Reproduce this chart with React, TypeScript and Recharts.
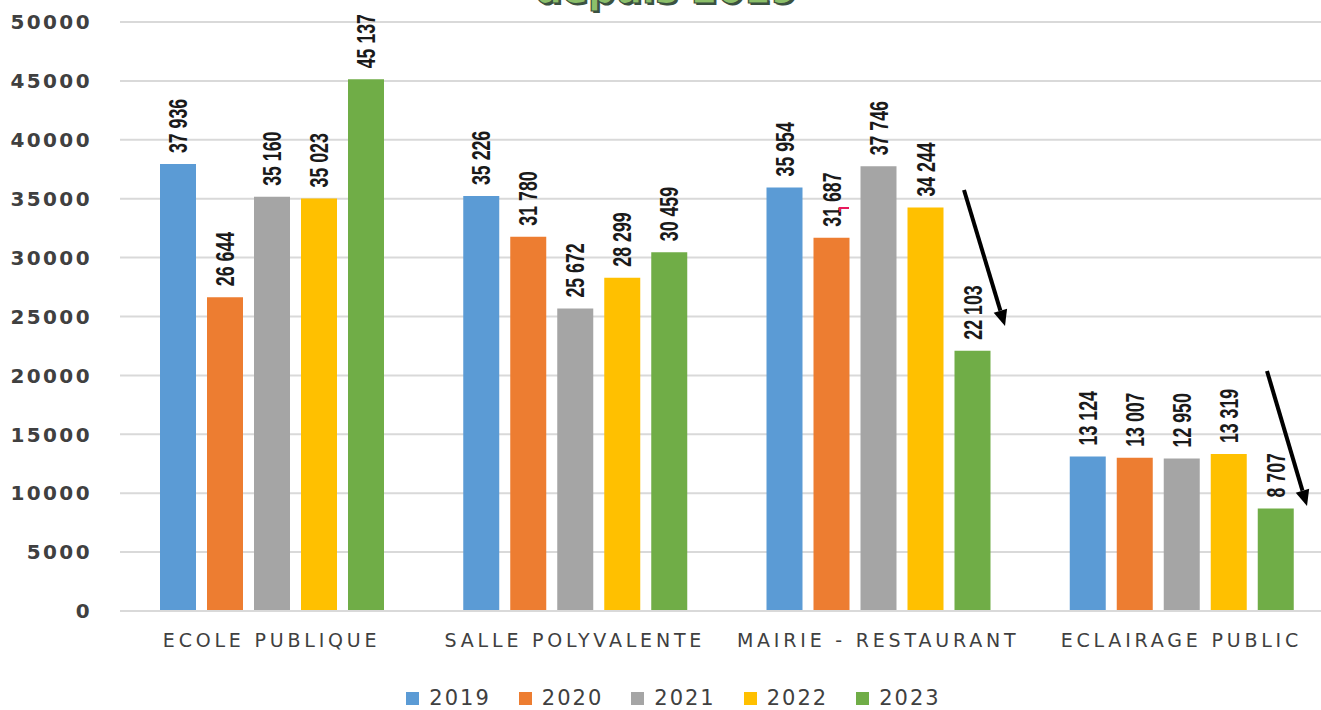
import React from 'react';
import { BarChart, Bar, XAxis, YAxis, CartesianGrid, Legend, LabelList } from 'recharts';

// Consumption per building, one array per year
const categories = ['ECOLE PUBLIQUE', 'SALLE POLYVALENTE', 'MAIRIE - RESTAURANT', 'ECLAIRAGE PUBLIC'];
const values2019 = [37936, 35226, 35954, 13124];
const values2020 = [26644, 31780, 31687, 13007];
const values2021 = [35160, 25672, 37746, 12950];
const values2022 = [35023, 28299, 34244, 13319];
const values2023 = [45137, 30459, 22103, 8707];
const years = ['2019', '2020', '2021', '2022', '2023'];
const colors = ['#5B9BD5', '#ED7D31', '#A5A5A5', '#FFC000', '#70AD47'];
const yTicks = [0, 5000, 10000, 15000, 20000, 25000, 30000, 35000, 40000, 45000, 50000];

const seriesValues = [values2019, values2020, values2021, values2022, values2023];

const data = categories.map((name, i) => {
  const row: Record<string, string | number> = { name };
  years.forEach((y, s) => {
    row[y] = seriesValues[s][i];
  });
  return row;
});

const formatValue = (v: number) => String(v).replace(/\B(?=(\d{3})+(?!\d))/g, ' ');

const ValueTick = (props: any) => {
  const { x, y, payload } = props;
  return (
    <text
      x={x - 28}
      y={y}
      dy="0.36em"
      textAnchor="end"
      fill="#404040"
      fontFamily="'DejaVu Sans', sans-serif"
      fontWeight="bold"
      fontSize={20}
      letterSpacing={2.4}
    >
      {payload.value}
    </text>
  );
};

const CategoryTick = (props: any) => {
  const { x, y, payload } = props;
  return (
    <text
      x={x}
      y={y + 36}
      textAnchor="middle"
      fill="#404040"
      fontFamily="'DejaVu Sans', sans-serif"
      fontSize={19}
      letterSpacing={3.8}
    >
      {payload.value}
    </text>
  );
};

// rotated value above each bar, squeezed along the text to look condensed
const BarValueLabel = (props: any) => {
  const { x, y, width, value } = props;
  const cx = Number(x) + Number(width) / 2;
  return (
    <text
      transform={`translate(${cx},${Number(y) - 11}) rotate(-90) scale(0.71,1)`}
      dy="0.36em"
      textAnchor="start"
      fill="#1a1a1a"
      fontFamily="'Liberation Sans', Arial, sans-serif"
      fontWeight="bold"
      fontSize={25}
    >
      {formatValue(Number(value))}
    </text>
  );
};

const LegendContent = (props: any) => {
  const { payload = [] } = props;
  return (
    <div
      style={{
        display: 'flex',
        justifyContent: 'center',
        alignItems: 'center',
        height: 26,
        boxSizing: 'border-box',
        paddingTop: 2,
        paddingLeft: 14,
      }}
    >
      {payload.map((entry: any, i: number) => (
        <div key={entry.value} style={{ display: 'flex', alignItems: 'center', marginRight: i < payload.length - 1 ? 28 : 0 }}>
          <span style={{ display: 'inline-block', width: 13, height: 13, background: entry.color, marginRight: 10 }} />
          <span
            style={{
              fontFamily: "'DejaVu Sans', sans-serif",
              fontSize: 21,
              letterSpacing: 2,
              color: '#404040',
              lineHeight: '22px',
            }}
          >
            {entry.value}
          </span>
        </div>
      ))}
    </div>
  );
};

// Annotation arrows drawn on top of the chart
const Arrow = ({ x1, y1, x2, y2 }: { x1: number; y1: number; x2: number; y2: number }) => {
  const angle = Math.atan2(y2 - y1, x2 - x1);
  const len = 16;
  const half = 7;
  const bx = x2 - len * Math.cos(angle);
  const by = y2 - len * Math.sin(angle);
  const px = -Math.sin(angle) * half;
  const py = Math.cos(angle) * half;
  return (
    <g>
      <line x1={x1} y1={y1} x2={bx} y2={by} stroke="#000" strokeWidth={4} />
      <polygon points={`${x2},${y2} ${bx + px},${by + py} ${bx - px},${by - py}`} fill="#000" />
    </g>
  );
};

export default function App() {
  return (
    <div style={{ position: 'absolute', left: 0, top: 0, width: 1321, height: 710, overflow: 'hidden', background: '#fff' }}>
      <BarChart
        width={1333}
        height={710}
        data={data}
        margin={{ top: 22, right: 0, left: 0, bottom: 0 }}
        barSize={36}
        barGap={11}
      >
        <CartesianGrid vertical={false} stroke="#d9d9d9" strokeWidth={2} />
        <XAxis
          dataKey="name"
          height={73}
          interval={0}
          tickLine={false}
          tickSize={0}
          tickMargin={0}
          axisLine={{ stroke: '#d9d9d9', strokeWidth: 2 }}
          tick={CategoryTick}
        />
        <YAxis
          width={120}
          domain={[0, 50000]}
          ticks={yTicks}
          interval={0}
          axisLine={false}
          tickLine={false}
          tickSize={0}
          tickMargin={0}
          tick={ValueTick}
        />
        <Legend verticalAlign="bottom" height={26} content={LegendContent} />
        {years.map((y, i) => (
          <Bar key={y} dataKey={y} fill={colors[i]} isAnimationActive={false}>
            <LabelList dataKey={y} content={BarValueLabel} />
          </Bar>
        ))}
      </BarChart>
      <svg
        width={1321}
        height={710}
        style={{ position: 'absolute', left: 0, top: 0, pointerEvents: 'none' }}
      >
        <text
          x={666}
          y={3}
          textAnchor="middle"
          fontFamily="'DejaVu Sans', sans-serif"
          fontWeight="bold"
          fontSize={38}
          fill="#3b5140"
          transform="translate(2,2)"
        >
          depuis 2019
        </text>
        <text
          x={666}
          y={3}
          textAnchor="middle"
          fontFamily="'DejaVu Sans', sans-serif"
          fontWeight="bold"
          fontSize={38}
          fill="#8cc06a"
          stroke="#3b5140"
          strokeWidth={1.2}
        >
          depuis 2019
        </text>
        <Arrow x1={964} y1={190} x2={1005} y2={326} />
        <Arrow x1={1267} y1={371} x2={1307} y2={506} />
        <path d="M840,212 L840,208 L849,208" stroke="#e8195c" strokeWidth={2} fill="none" />
      </svg>
    </div>
  );
}
